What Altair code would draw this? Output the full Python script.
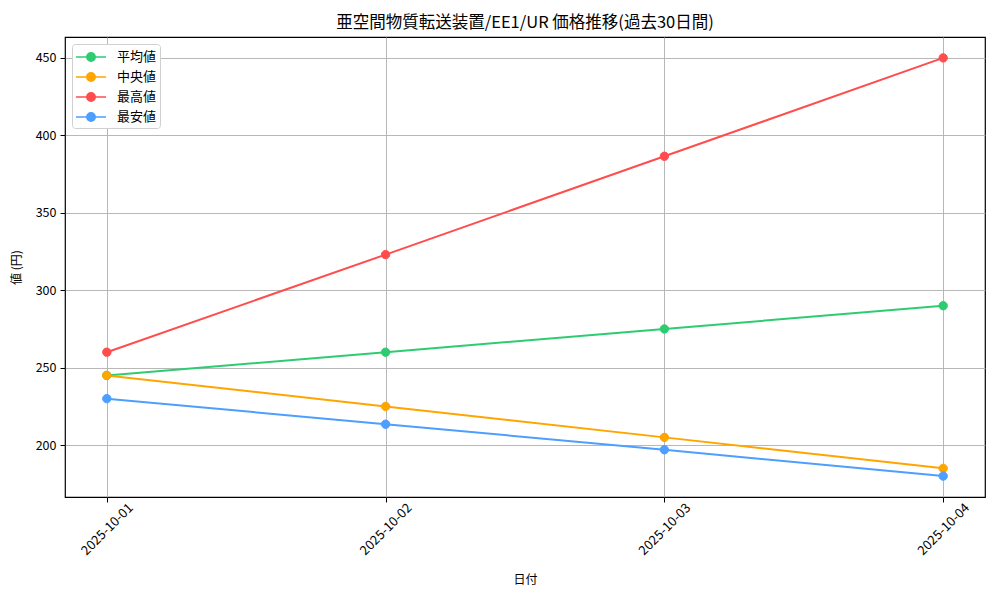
import altair as alt
import pandas as pd

dates = ["2025-10-01", "2025-10-02", "2025-10-03", "2025-10-04"]
series_names = ["平均値", "中央値", "最高値", "最安値"]
avg_vals = [245, 260, 275, 290]
median_vals = [245, 225, 205, 185]
high_vals = [260, 323, 386.5, 450]
low_vals = [230, 213.5, 197, 180]
colors = ["#2ecc71", "#ffa500", "#ff4d4d", "#4d9fff"]
y_ticks = [200, 250, 300, 350, 400, 450]

rows = []
for name, vals in zip(series_names, [avg_vals, median_vals, high_vals, low_vals]):
    for d, v in zip(dates, vals):
        rows.append({"date": d, "value": v, "series": name})
df = pd.DataFrame(rows)

FONT = "Noto Sans CJK JP"

x_dom = [alt.DateTime(year=2025, month=9, date=30, hours=20, minutes=24, utc=True),
         alt.DateTime(year=2025, month=10, date=4, hours=3, minutes=36, utc=True)]
x_vals = [alt.DateTime(year=2025, month=10, date=int(d[-2:]), utc=True) for d in dates]

legend = alt.Legend(
    title=None,
    orient="top-left",
    offset=7,
    symbolType="M-1.67,0L1.67,0M-0.47,0A0.47,0.47,0,1,1,0.47,0A0.47,0.47,0,1,1,-0.47,0Z",
    symbolSize=324,
    symbolStrokeWidth=1.5,
    symbolOpacity=1,
    symbolOffset=6,
    rowPadding=2,
    labelFontSize=13,
    labelFont=FONT,
    labelOffset=16,
    padding=3,
    fillColor="white",
    strokeColor="#d0d0d0",
    cornerRadius=3,
)
scale = alt.Scale(domain=series_names, range=colors)

x = alt.X(
    "date:T",
    scale=alt.Scale(type="utc", domain=x_dom, nice=False),
    axis=alt.Axis(
        values=x_vals,
        labelExpr="utcFormat(datum.value, '%Y-%m-%d')",
        labelAngle=-45,
        labelAlign="center",
        labelBaseline="middle",
        labelPadding=27,
        labelFontSize=13,
        title="日付",
        titlePadding=17,
    ),
)
y = alt.Y(
    "value:Q",
    scale=alt.Scale(domain=[166.5, 463.5], nice=False, zero=False),
    axis=alt.Axis(values=y_ticks, title="値 (円)", titlePadding=12),
)

base = alt.Chart(df)
lines = base.mark_line(strokeWidth=2).encode(
    x=x, y=y,
    stroke=alt.Stroke("series:N", scale=scale, sort=series_names, legend=legend),
)
points = base.mark_point(filled=True, size=70, opacity=1, strokeWidth=1).encode(
    x=x, y=y,
    fill=alt.Fill("series:N", scale=scale, sort=series_names, legend=legend),
    stroke=alt.Stroke("series:N", scale=scale, sort=series_names, legend=legend),
)

chart = alt.layer(lines, points).properties(
    width=920,
    height=460,
    title=alt.TitleParams("亜空間物質転送装置/EE1/UR 価格推移(過去30日間)", fontSize=16.5,
                          font=FONT, fontWeight="normal", offset=6),
    autosize=alt.AutoSizeParams(type="none"),
    padding={"left": 57, "top": 29, "right": 7, "bottom": 95},
).configure_view(
    stroke="black", strokeWidth=1.2
).configure_axis(
    labelFont=FONT,
    titleFont=FONT,
    labelFontSize=12.5,
    titleFontSize=12,
    titleFontWeight="normal",
    labelColor="black",
    titleColor="black",
    grid=True,
    gridColor="#b0b0b0",
    gridWidth=0.9,
    domain=False,
    tickColor="black",
    tickSize=5,
    tickWidth=1,
    labelPadding=4,
).configure_axisY(
    titleAngle=-90,
)

chart.save("out.html", embed_options={"renderer": "svg", "actions": False})
